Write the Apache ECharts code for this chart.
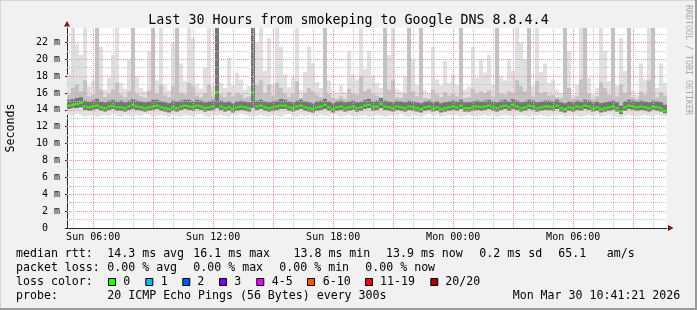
<!DOCTYPE html>
<html><head><meta charset="utf-8">
<script src="https://cdn.jsdelivr.net/npm/echarts@6.0.0/dist/echarts.min.js"></script>
<style>html,body{margin:0;padding:0;background:#f1f1f1;}#c{width:697px;height:310px;}</style>
</head><body><div id="c"></div>
<script>
// time: hours since Sun 00:00; window ends Mon 10:41:21 (30 hours)
const startHour = 4 + 41/60 + 21/3600;
const stepHours = 0.2;
const yMax = 23.7;

const tickValues = [6, 12, 18, 24, 30];
const tickLabels = ['Sun 06:00', 'Sun 12:00', 'Sun 18:00', 'Mon 00:00', 'Mon 06:00'];
const yLabelValues = [0, 2, 4, 6, 8, 10, 12, 14, 16, 18, 20, 22];

// median rtt per column (ms)
const medMs = [
14.5,14.6,14.7,14.8,14.4,14.3,14.4,14.5,14.3,14.2,
14.4,14.5,14.3,14.3,14.2,14.4,14.6,14.4,14.3,14.2,
14.3,14.4,14.5,14.3,14.2,14.1,14.3,14.2,14.4,14.5,
14.4,14.3,14.5,14.4,14.2,14.3,14.4,16.1,14.4,14.2,
14.3,14.1,14.3,14.4,14.3,14.2,16.1,14.4,14.5,14.3,
14.2,14.3,14.4,14.5,14.5,14.3,14.2,14.4,14.5,14.3,
14.2,14.1,14.3,14.4,14.6,14.3,14.1,14.3,14.4,14.2,
14.3,14.4,14.2,14.3,14.5,14.6,14.3,14.4,14.7,14.4,
14.3,14.2,14.4,14.3,14.2,14.4,14.3,14.2,14.1,14.3,
14.4,14.2,14.3,14.1,14.2,14.3,14.4,14.3,14.5,14.2,
14.2,14.3,14.4,14.3,14.4,14.5,14.3,14.2,14.4,14.5,
14.3,14.6,14.4,14.2,14.3,14.5,14.4,14.2,14.3,14.4,
14.4,14.3,14.5,14.2,14.1,14.3,14.2,14.4,14.3,14.5,
14.4,14.2,14.3,14.1,14.2,14.3,14.4,14.2,13.8,14.3,
14.5,14.4,14.3,14.4,14.3,14.2,14.4,14.3,14.2,13.9];
// lowest ping per column
const minMs = [
13.4,13.3,13.5,13.4,13.2,13.3,13.4,13.2,13.3,13.4,
13.3,13.5,13.3,13.2,13.4,13.3,13.2,13.4,13.3,13.5,
13.4,13.2,13.3,13.4,13.3,13.2,13.4,13.3,13.2,13.4,
13.3,13.2,13.4,13.5,13.3,13.2,13.4,13.3,13.4,13.3,
13.2,13.4,13.3,13.5,13.4,13.3,13.2,13.3,13.4,13.3,
13.2,13.4,13.3,13.2,13.4,13.5,13.3,13.2,13.4,13.3,
13.4,13.3,13.2,13.4,13.3,13.3,13.5,13.4,13.2,13.3,
13.4,13.3,13.2,13.3,13.4,13.2,13.3,13.4,13.3,13.2,
13.3,13.4,13.3,13.5,13.3,13.2,13.4,13.3,13.2,13.4,
13.5,13.3,13.4,13.2,13.3,13.4,13.3,13.4,13.2,13.3,
13.4,13.3,13.2,13.3,13.4,13.3,13.4,13.2,13.3,13.4,
13.3,13.2,13.3,13.4,13.3,13.2,13.4,13.3,13.4,13.3,
13.2,13.4,13.3,13.4,13.2,13.3,13.4,13.3,13.2,13.3,
13.4,13.3,13.4,13.2,13.3,13.4,13.3,13.2,13.1,13.3,
13.4,13.3,13.2,13.3,13.4,13.3,13.2,13.4,13.3,13.2];
// bottom of dense smoke
const loMs = [
14.1,14.2,14.2,14.3,14.0,13.9,14.0,14.1,13.9,13.8,
14.0,14.1,13.9,13.9,13.8,14.0,14.1,14.0,13.9,13.8,
13.9,14.0,14.1,13.9,13.8,13.7,13.9,13.8,14.0,14.1,
14.0,13.9,14.1,14.0,13.8,13.9,14.0,14.2,14.0,13.8,
13.9,13.7,13.9,14.0,13.9,13.8,14.2,14.0,14.1,13.9,
13.8,13.9,14.0,14.1,14.1,13.9,13.8,14.0,14.1,13.9,
13.8,13.7,13.9,14.0,14.1,13.9,13.7,13.9,14.0,13.8,
13.9,14.0,13.8,13.9,14.1,14.2,13.9,14.0,14.2,14.0,
13.9,13.8,14.0,13.9,13.8,14.0,13.9,13.8,13.7,13.9,
14.0,13.8,13.9,13.7,13.8,13.9,14.0,13.9,14.1,13.8,
13.8,13.9,14.0,13.9,14.0,14.1,13.9,13.8,14.0,14.1,
13.9,14.1,14.0,13.8,13.9,14.1,14.0,13.8,13.9,14.0,
14.0,13.9,14.1,13.8,13.7,13.9,13.8,14.0,13.9,14.1,
14.0,13.8,13.9,13.7,13.8,13.9,14.0,13.8,13.5,13.9,
14.1,14.0,13.9,14.0,13.9,13.8,14.0,13.9,13.8,13.6];
// top of dense smoke
const hiMs = [
15.2,15.3,15.4,15.5,15.1,15.0,15.1,15.3,15.0,14.9,
15.1,15.2,15.0,15.1,14.9,15.1,15.3,15.1,15.0,14.9,
15.0,15.2,15.2,15.0,14.9,14.8,15.1,15.0,15.1,15.2,
15.2,15.0,15.2,15.1,14.9,15.0,15.1,23.7,15.1,14.9,
15.0,14.8,15.0,15.1,15.0,14.9,23.7,15.1,15.2,15.0,
14.9,15.0,15.1,15.3,15.2,15.0,14.9,15.1,15.2,15.0,
14.9,14.8,15.0,15.1,15.3,15.0,14.8,15.0,15.1,14.9,
15.0,15.1,14.9,15.0,15.2,15.3,15.0,15.1,15.4,15.1,
15.0,14.9,15.1,15.0,14.9,15.1,15.0,14.9,14.8,15.0,
15.1,14.9,15.0,14.8,14.9,15.0,15.1,15.0,15.2,14.9,
14.9,15.0,15.1,15.0,15.1,15.2,15.0,14.9,15.1,15.2,
15.0,15.3,15.1,14.9,15.0,15.2,15.1,14.9,15.0,15.1,
15.1,15.0,15.2,14.9,14.8,15.0,14.9,15.1,15.0,15.2,
15.1,14.9,15.0,14.8,14.9,15.0,15.1,14.9,14.5,15.0,
15.2,15.1,15.0,15.1,15.0,14.9,15.1,15.0,14.9,14.6];
// top of medium smoke
const midMs = [
15.8,16.6,17.0,16.2,17.5,15.6,15.8,23.7,16.4,15.5,
15.9,16.4,17.2,15.8,15.5,16.2,23.7,15.9,15.6,15.4,
16.3,23.7,15.9,17.0,15.7,15.5,16.8,23.7,16.0,15.8,
17.2,16.8,15.7,15.5,16.0,17.0,15.6,23.7,15.8,15.5,
16.1,15.6,16.0,15.8,15.4,15.6,23.7,17.0,17.5,16.0,
17.0,15.7,17.2,16.6,15.9,15.5,15.9,17.4,15.4,16.0,
16.6,16.2,15.8,15.5,23.7,15.9,15.4,15.3,15.6,15.3,
16.5,16.0,15.8,18.0,16.2,16.5,15.9,15.7,15.5,23.7,
16.4,17.5,15.5,15.4,15.9,23.7,16.2,15.6,23.7,15.4,
15.3,16.4,15.8,15.5,16.1,15.7,15.9,15.6,23.7,15.4,
15.5,16.5,15.9,16.2,16.0,16.3,15.6,23.7,15.9,15.8,
16.2,16.0,17.5,16.8,16.2,23.7,15.6,17.4,16.0,16.1,
15.7,15.8,15.5,15.4,23.7,16.6,15.3,15.6,17.6,23.7,
15.9,15.3,15.6,17.3,16.6,15.8,23.7,15.6,17.0,16.0,
23.7,15.5,15.3,16.2,15.8,17.5,23.7,15.5,16.1,15.7];
// highest ping per column (clipped at the top of the graph)
const maxMs = [
18.2,23.7,21.8,20.5,23.7,16.8,17.5,23.7,21.5,16.4,
17.8,20.5,23.7,17.2,16.5,20.0,23.7,18.0,16.6,16.2,
21.0,23.7,17.5,23.7,16.9,16.3,22.0,23.7,19.5,17.4,
23.7,22.5,17.0,16.5,19.0,23.7,16.8,23.7,17.2,16.6,
20.2,16.9,18.4,17.6,16.4,16.8,23.7,22.0,23.7,18.6,
22.5,17.0,23.7,21.5,18.2,16.7,17.8,23.7,16.3,18.5,
21.5,19.5,17.3,16.6,23.7,17.5,16.2,16.0,16.9,16.1,
21.0,18.2,17.6,23.7,18.8,21.0,18.0,17.2,16.6,23.7,
20.5,23.7,16.5,16.2,18.0,23.7,20.0,17.0,23.7,16.3,
16.0,21.5,17.6,16.9,19.8,17.2,18.2,17.0,23.7,16.4,
16.8,21.5,17.8,20.0,18.4,20.5,17.0,23.7,18.0,17.5,
20.0,18.6,23.7,22.0,20.0,23.7,16.8,23.7,18.5,19.5,
17.2,17.6,16.4,16.0,23.7,21.0,15.8,17.0,23.7,22.0,
17.8,15.9,16.6,23.7,21.0,17.4,23.7,16.9,22.5,18.6,
23.7,16.2,15.8,19.5,17.6,23.7,23.7,16.6,19.5,17.2];

const lossLabels = ['0', '1', '2', '3', '4-5', '6-10', '11-19', '20/20'];
const lossColors = ['#26ff00', '#00b8ff', '#0059ff', '#7e00ff', '#ee00ff', '#ff5500', '#ff0000', '#a10000'];

const rows = medMs.map((m, i) => [startHour + i * stepHours, minMs[i], loMs[i], m, hiMs[i], midMs[i], maxMs[i]]);

const mono = '"DejaVu Sans Mono", monospace';
const chart = echarts.init(document.getElementById('c'), null, {renderer: 'canvas'});

function colRect(api, a, b, color) {
  const t = api.value(0);
  const p0 = api.coord([t, a]);
  const p1 = api.coord([t + stepHours, b]);
  return {type: 'rect', shape: {x: p0[0], y: p1[1], width: p1[0] - p0[0], height: p0[1] - p1[1]}, style: {fill: color}};
}
function renderSmoke(params, api) {
  return {type: 'group', children: [
    colRect(api, api.value(1), api.value(6), '#e0e0e0'),
    colRect(api, api.value(2), api.value(5), '#c2c2c2'),
    colRect(api, api.value(2), api.value(4), '#767676')
  ]};
}
function renderMedian(params, api) {
  const t = api.value(0);
  const p0 = api.coord([t, api.value(3)]);
  const p1 = api.coord([t + stepHours, api.value(3)]);
  return {type: 'rect', shape: {x: p0[0], y: p0[1] - 1, width: p1[0] - p0[0], height: 2}, style: {fill: lossColors[0]}};
}

const hGrid = [];
for (let v = 1; v <= 23; v++) hGrid.push({yAxis: v, lineStyle: {color: v % 2 === 0 ? '#f09494' : '#c4c4c4'}});
const vGrid = [];
for (let h = Math.ceil(startHour); h <= startHour + 30; h++) vGrid.push({xAxis: h, lineStyle: {color: h % 3 === 0 ? '#f09494' : '#c4c4c4'}});

const graphic = [
  {type: 'rect', shape: {x: 0, y: 0, width: 697, height: 1}, style: {fill: '#d6d6d6'}, silent: true},
  {type: 'rect', shape: {x: 0, y: 0, width: 1, height: 310}, style: {fill: '#d6d6d6'}, silent: true},
  {type: 'rect', shape: {x: 695, y: 0, width: 2, height: 310}, style: {fill: '#9a9a9a'}, silent: true},
  {type: 'rect', shape: {x: 0, y: 308, width: 697, height: 2}, style: {fill: '#9a9a9a'}, silent: true},
  {type: 'polygon', shape: {points: [[67, 21], [64, 26.5], [70, 26.5]]}, style: {fill: '#7f1414'}, z: 20},
  {type: 'polygon', shape: {points: [[673.5, 228], [668, 225], [668, 231]]}, style: {fill: '#7f1414'}, z: 20},
  {type: 'text', x: 688, y: 5, rotation: -Math.PI / 2,
   style: {text: 'RRDTOOL / TOBI OETIKER', font: '8.3px ' + mono, fill: '#a9a9a9', align: 'left', verticalAlign: 'middle'}}
];
const legendFont = '11.6px ' + mono;
function txt(x, y, s) {
  graphic.push({type: 'text', x: x, y: y, style: {text: s, font: legendFont, fill: '#000', align: 'left', verticalAlign: 'middle'}});
}
const row1 = 254, row2 = 268, row3 = 282, row4 = 296;
txt(16, row1, 'median rtt:');
txt(107.3, row1, '14.3 ms avg');
txt(193.3, row1, '16.1 ms max');
txt(293.5, row1, '13.8 ms min');
txt(386, row1, '13.9 ms now');
txt(479.3, row1, '0.2 ms sd');
txt(558.3, row1, '65.1');
txt(606.7, row1, 'am/s');
txt(16, row2, 'packet loss:');
txt(107.3, row2, '0.00 % avg');
txt(193.3, row2, '0.00 % max');
txt(279.3, row2, '0.00 % min');
txt(365.3, row2, '0.00 % now');
txt(16, row3, 'loss color:');
const boxX = [108.5, 145.8, 182.8, 219.5, 256.8, 307.5, 365.5, 430.8];
const boxLabelX = [123.3, 160.7, 197.3, 234.3, 271.7, 322.7, 380, 445.3];
lossLabels.forEach((l, k) => {
  graphic.push({type: 'rect', shape: {x: boxX[k], y: 278.5, width: 7, height: 7}, style: {fill: lossColors[k], stroke: '#000', lineWidth: 1}});
  txt(boxLabelX[k], row3, l);
});
txt(16, row4, 'probe:');
txt(107.3, row4, '20 ICMP Echo Pings (56 Bytes) every 300s');
txt(512.7, row4, 'Mon Mar 30 10:41:21 2026');

chart.setOption({
  backgroundColor: '#f1f1f1',
  animation: false,
  title: {text: 'Last 30 Hours from smokeping to Google DNS 8.8.4.4', left: 'center', top: 9,
    textStyle: {fontFamily: mono, fontSize: 13.3, fontWeight: 'normal', color: '#000'}},
  grid: {left: 67, top: 28, width: 600, height: 200, show: true, backgroundColor: '#ffffff', borderWidth: 0,
    containLabel: false, outerBoundsMode: 'none'},
  xAxis: {type: 'value', min: startHour, max: startHour + 30,
    axisLine: {show: true, onZero: false, lineStyle: {color: '#2a2a2a', width: 1}},
    axisTick: {show: false},
    splitLine: {show: false},
    axisLabel: {customValues: tickValues, margin: 4, fontFamily: mono, fontSize: 10, color: '#000',
      formatter: v => { const k = tickValues.indexOf(Math.round(v)); return k >= 0 && Math.abs(v - tickValues[k]) < 1e-6 ? tickLabels[k] : ''; }}},
  yAxis: {type: 'value', min: 0, max: yMax, interval: 2,
    name: 'Seconds', nameLocation: 'middle', nameRotate: 90, nameGap: 50,
    nameTextStyle: {fontFamily: mono, fontSize: 11.6, color: '#000'},
    axisLine: {show: true, lineStyle: {color: '#2a2a2a', width: 1}},
    axisTick: {show: true, customValues: yLabelValues, length: 2, lineStyle: {color: '#2a2a2a'}},
    splitLine: {show: false},
    axisLabel: {customValues: yLabelValues, margin: 7, fontFamily: mono, fontSize: 10, color: '#000',
      formatter: v => (v === 0 ? '0  ' : (Math.abs(v % 2) < 1e-9 ? v + ' m' : ''))}},
  graphic: graphic,
  series: [
    {type: 'custom', name: 'smoke', data: rows, renderItem: renderSmoke, clip: true, silent: true, z: 2,
     encode: {x: 0, y: [1, 6]}},
    {type: 'line', name: 'grid', data: [], silent: true, z: 3,
     markLine: {silent: true, symbol: ['none', 'none'], label: {show: false}, animation: false,
       lineStyle: {type: [1, 1], width: 1}, data: hGrid.concat(vGrid)}},
    {type: 'custom', name: 'median', data: rows, renderItem: renderMedian, clip: true, silent: true, z: 10,
     encode: {x: 0, y: 3}}
  ]
});
</script>
</body></html>
